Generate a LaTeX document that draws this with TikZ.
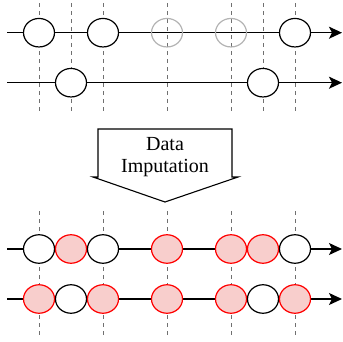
\documentclass[tikz,border=0pt]{standalone}
\usepackage{fontspec}
\setmainfont{Liberation Serif}
\usetikzlibrary{shapes.geometric,arrows.meta}
\definecolor{impfill}{HTML}{F8CECC}
\definecolor{missgray}{HTML}{B3B3B3}
\definecolor{dashgray}{HTML}{707070}
\tikzset{
  obs/.style={ellipse, draw=black, fill=white, line width=1.2pt, minimum width=31pt, minimum height=28.5pt, inner sep=0pt},
  miss/.style={ellipse, draw=missgray, line width=1.2pt, minimum width=31pt, minimum height=28.5pt, inner sep=0pt},
  imp/.style={ellipse, draw=red, fill=impfill, line width=1.2pt, minimum width=31pt, minimum height=28.5pt, inner sep=0pt},
  guide/.style={draw=dashgray, line width=0.9pt, dash pattern=on 4pt off 4pt},
  axisline/.style={draw=black, line width=1.3pt, -{Stealth[length=13pt,width=12pt,inset=3pt]}},
  blockarrow/.style={draw=black, line width=1.1pt, line join=miter},
}
\begin{document}
\begin{tikzpicture}[x=1pt,y=-1pt]
\useasboundingbox (0,0) rectangle (343,341);
% column guide coordinates
\foreach \n/\x in {a/39,b/71,c/103,d/167,e/231,f/263,g/295}{
  \coordinate (t\n) at (\x,3);
  \coordinate (u\n) at (\x,113);
}
\foreach \n/\x in {a/39,c/103,d/167,e/231,g/295}{
  \coordinate (v\n) at (\x,211);
  \coordinate (w\n) at (\x,337);
}
\foreach \n in {a,b,c,d,e,f,g}{ \draw[guide] (t\n) -- (u\n); }
\foreach \n in {a,c,d,e,g}{ \draw[guide] (v\n) -- (w\n); }
% row lines
\coordinate (r1s) at (7,32.7); \coordinate (r1e) at (342,32.7);
\coordinate (r2s) at (7,82.7); \coordinate (r2e) at (342,82.7);
\coordinate (r3s) at (7,249); \coordinate (r3e) at (342,249);
\coordinate (r4s) at (7,299); \coordinate (r4e) at (342,299);
\draw[axisline] (r1s) -- (r1e);
\draw[axisline] (r2s) -- (r2e);
\draw[axisline] (r3s) -- (r3e);
\draw[axisline] (r4s) -- (r4e);
% row 1
\node[obs] (p1a) at (39,32.7) {};
\node[obs] (p1c) at (103,32.7) {};
\node[miss] (p1d) at (167,32.7) {};
\node[miss] (p1e) at (231,32.7) {};
\node[obs] (p1g) at (295,32.7) {};
% row 2
\node[obs] (p2b) at (71,82.7) {};
\node[obs] (p2f) at (263,82.7) {};
% row 3
\node[obs] (p3a) at (39,249) {};
\node[imp] (p3b) at (71,249) {};
\node[obs] (p3c) at (103,249) {};
\node[imp] (p3d) at (167,249) {};
\node[imp] (p3e) at (231,249) {};
\node[imp] (p3f) at (263,249) {};
\node[obs] (p3g) at (295,249) {};
% row 4
\node[imp] (p4a) at (39,299) {};
\node[obs] (p4b) at (71,299) {};
\node[imp] (p4c) at (103,299) {};
\node[imp] (p4d) at (167,299) {};
\node[imp] (p4e) at (231,299) {};
\node[obs] (p4f) at (263,299) {};
\node[imp] (p4g) at (295,299) {};
% block arrow
\draw[blockarrow] (98,177) -- (98,129) -- (232,129) -- (232,177) -- (238,177) -- (165,202) -- (93,177) -- cycle;
\node[align=center, font=\fontsize{20}{22}\selectfont, inner sep=0pt] (imputation) at (165,157.5) {Data\\Imputation};
\end{tikzpicture}
\end{document}
